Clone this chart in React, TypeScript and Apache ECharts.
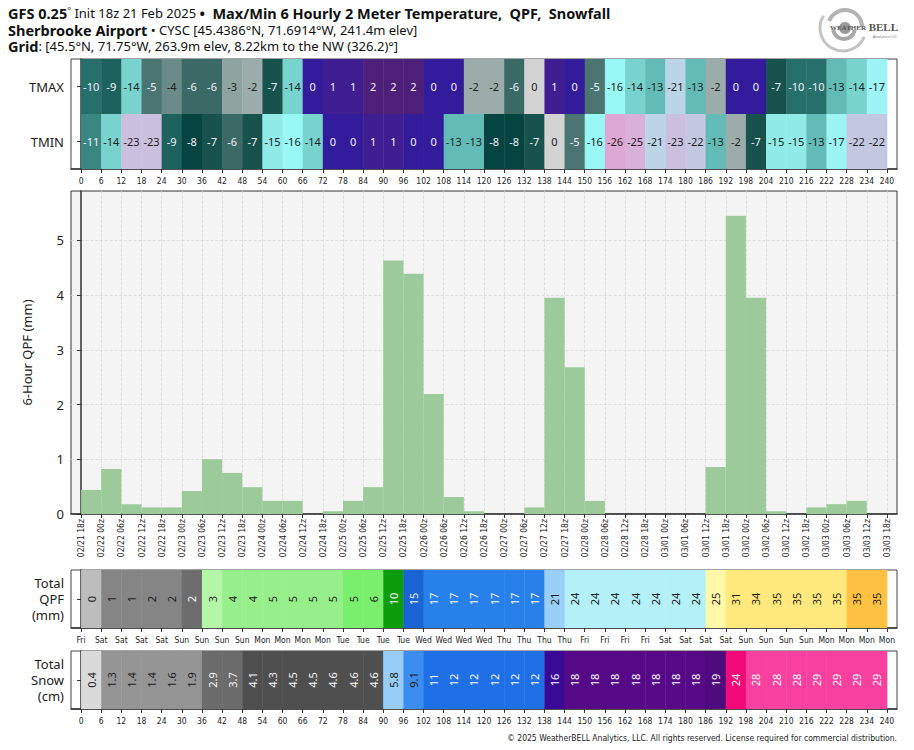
import React, { useEffect, useRef } from "react";
import * as echarts from "echarts";

// ---------- data ----------
const HOURS = [0, 6, 12, 18, 24, 30, 36, 42, 48, 54, 60, 66, 72, 78, 84, 90, 96, 102, 108, 114, 120, 126, 132, 138, 144, 150, 156, 162, 168, 174, 180, 186, 192, 198, 204, 210, 216, 222, 228, 234, 240];

const DATE_LABELS = [
  "02/21 18z",
  "02/22 00z", "02/22 06z", "02/22 12z", "02/22 18z",
  "02/23 00z", "02/23 06z", "02/23 12z", "02/23 18z",
  "02/24 00z", "02/24 06z", "02/24 12z", "02/24 18z",
  "02/25 00z", "02/25 06z", "02/25 12z", "02/25 18z",
  "02/26 00z", "02/26 06z", "02/26 12z", "02/26 18z",
  "02/27 00z", "02/27 06z", "02/27 12z", "02/27 18z",
  "02/28 00z", "02/28 06z", "02/28 12z", "02/28 18z",
  "03/01 00z", "03/01 06z", "03/01 12z", "03/01 18z",
  "03/02 00z", "03/02 06z", "03/02 12z", "03/02 18z",
  "03/03 00z", "03/03 06z", "03/03 12z", "03/03 18z",
];

const DAY_LABELS = [
  "Fri",
  "Sat", "Sat", "Sat", "Sat",
  "Sun", "Sun", "Sun", "Sun",
  "Mon", "Mon", "Mon", "Mon",
  "Tue", "Tue", "Tue", "Tue",
  "Wed", "Wed", "Wed", "Wed",
  "Thu", "Thu", "Thu", "Thu",
  "Fri", "Fri", "Fri", "Fri",
  "Sat", "Sat", "Sat", "Sat",
  "Sun", "Sun", "Sun", "Sun",
  "Mon", "Mon", "Mon", "Mon",
];

// 6-hourly max / min 2 m temperature (°C)
const TMAX = [-10, -9, -14, -5, -4, -6, -6, -3, -2, -7, -14, 0, 1, 1, 2, 2, 2, 0, 0, -2, -2, -6, -0.3, 1, 0, -5, -16, -14, -13, -21, -13, -2, 0, 0, -7, -10, -10, -13, -14, -17];
const TMIN = [-11, -14, -23, -23, -9, -8, -7, -6, -7, -15, -16, -14, 0, 0, 1, 1, 0, 0, -13, -13, -8, -8, -7, -0.3, -5, -16, -26, -25, -21, -23, -22, -13, -2, -7, -15, -15, -13, -17, -22, -22];

// 6-hour QPF (mm)
const QPF_6H = [0.44, 0.82, 0.18, 0.12, 0.12, 0.42, 1.0, 0.75, 0.49, 0.24, 0.24, 0, 0.05, 0.24, 0.49, 4.63, 4.39, 2.19, 0.31, 0.05, 0, 0, 0.12, 3.95, 2.68, 0.24, 0, 0, 0, 0, 0, 0.86, 5.45, 3.95, 0.05, 0, 0.12, 0.18, 0.24, 0];

// accumulated QPF (mm)
const QPF_TOTAL = [0.4, 1.3, 1.4, 1.6, 1.7, 2.1, 3.1, 3.9, 4.4, 4.6, 4.8, 4.8, 4.9, 5.1, 5.6, 10.2, 14.6, 16.8, 17.1, 17.2, 17.2, 17.2, 17.3, 21.3, 24.0, 24.2, 24.2, 24.2, 24.2, 24.2, 24.2, 25.1, 30.6, 34.4, 34.6, 34.6, 34.7, 34.9, 35.1, 35.1];

// accumulated snowfall (cm)
const SNOW_TOTAL = [0.4, 1.3, 1.4, 1.4, 1.6, 1.9, 2.9, 3.7, 4.1, 4.3, 4.5, 4.5, 4.6, 4.6, 4.6, 5.8, 9.1, 11, 12, 12, 12, 12, 12, 16, 18, 18, 18, 18, 18, 18, 18, 19, 24, 28, 28, 28, 29, 29, 29, 29];

const QPF_TICKS = [0, 1, 2, 3, 4, 5];

const TITLE_LINES = [
  "{b|GFS 0.25}{d|°}{n| Init 18z 21 Feb 2025 }{b|•  Max/Min 6 Hourly 2 Meter Temperature,  QPF,  Snowfall}",
  "{b|Sherbrooke Airport}{n| • CYSC [45.4386°N, 71.6914°W, 241.4m elev]}",
  "{b|Grid}{n|: [45.5°N, 71.75°W, 263.9m elev, 8.22km to the NW (326.2)°]}",
];
const COPYRIGHT = "© 2025 WeatherBELL Analytics, LLC. All rights reserved. License required for commercial distribution.";

// ---------- styles ----------
const FONT = '"Noto Sans", "Open Sans", sans-serif';
const NARROW = '"Liberation Sans Narrow", "DejaVu Sans Condensed", "Noto Sans", sans-serif';

const TEMP_STOPS: [number, string][] = [
  [-26, "#dea6d4"], [-25, "#d8b0da"], [-23, "#cbbfe0"], [-22, "#c3c7e2"], [-21, "#bcd4e8"],
  [-17, "#9cf4f4"], [-16, "#98f8f6"], [-15, "#8feae8"], [-14, "#78d3cf"], [-13, "#62bbb6"],
  [-11, "#3a8680"], [-10, "#276f6a"], [-9, "#1d625d"], [-8, "#054440"], [-7, "#17524d"],
  [-6, "#3b6a66"], [-5, "#4a7571"], [-4, "#6a8b87"], [-3, "#8ea4a0"], [-2, "#9cacaa"],
  [-0.5, "#d2d2d2"], [-0.01, "#d4d4d4"], [0, "#321c9c"], [1, "#3e1e90"], [2, "#4d1f78"],
];

type Piece = { lt: number; color: string; text: string };
const QPF_SCALE: Piece[] = [
  { lt: 1, color: "#bdbdbd", text: "#222" },
  { lt: 2, color: "#858585", text: "#222" },
  { lt: 3, color: "#6d6d6d", text: "#f4f4f4" },
  { lt: 3.5, color: "#b4f7a8", text: "#222" },
  { lt: 5, color: "#97ef8b", text: "#222" },
  { lt: 7, color: "#79ef6d", text: "#222" },
  { lt: 12, color: "#0c9c0c", text: "#f4f4f4" },
  { lt: 16, color: "#1a64d4", text: "#f4f4f4" },
  { lt: 19, color: "#2881ea", text: "#f4f4f4" },
  { lt: 22.5, color: "#99cff8", text: "#222" },
  { lt: 25, color: "#b4f0f8", text: "#222" },
  { lt: 28, color: "#fff8a9", text: "#222" },
  { lt: 35, color: "#ffe87c", text: "#222" },
  { lt: Infinity, color: "#ffc141", text: "#222" },
];
const SNOW_SCALE: Piece[] = [
  { lt: 1, color: "#dadada", text: "#222" },
  { lt: 2.5, color: "#959595", text: "#222" },
  { lt: 4, color: "#6c6c6c", text: "#f4f4f4" },
  { lt: 5, color: "#4f4f4f", text: "#f4f4f4" },
  { lt: 7, color: "#97cdf8", text: "#222" },
  { lt: 10, color: "#3b8df0", text: "#222" },
  { lt: 15, color: "#1f6fe7", text: "#f4f4f4" },
  { lt: 17, color: "#3a0996", text: "#f4f4f4" },
  { lt: 18.6, color: "#570a87", text: "#f4f4f4" },
  { lt: 20, color: "#4f0a7d", text: "#f4f4f4" },
  { lt: 25, color: "#f20a7b", text: "#f4f4f4" },
  { lt: Infinity, color: "#f8419f", text: "#f4f4f4" },
];

function hexRgb(h: string): number[] {
  return [parseInt(h.slice(1, 3), 16), parseInt(h.slice(3, 5), 16), parseInt(h.slice(5, 7), 16)];
}
function tempColor(t: number): string {
  if (t <= TEMP_STOPS[0][0]) return TEMP_STOPS[0][1];
  for (let i = 0; i < TEMP_STOPS.length - 1; i++) {
    const [t0, c0] = TEMP_STOPS[i];
    const [t1, c1] = TEMP_STOPS[i + 1];
    if (t >= t0 && t <= t1) {
      const f = (t - t0) / (t1 - t0);
      const a = hexRgb(c0), b = hexRgb(c1);
      const m = a.map((v, k) => Math.round(v + (b[k] - v) * f));
      return `rgb(${m[0]},${m[1]},${m[2]})`;
    }
  }
  return TEMP_STOPS[TEMP_STOPS.length - 1][1];
}
function lum(c: string): number {
  let r: number, g: number, b: number;
  if (c.startsWith("#")) [r, g, b] = hexRgb(c);
  else [r, g, b] = c.replace(/[^\d,]/g, "").split(",").map(Number);
  return (0.299 * r + 0.587 * g + 0.114 * b) / 255;
}
function pick(scale: Piece[], v: number): Piece {
  for (const p of scale) if (v < p.lt) return p;
  return scale[scale.length - 1];
}

// ---------- render helpers ----------
function cellRenderer(
  colorOf: (v: number) => { fill: string; text: string },
  labelOf: (v: number) => string,
  rotated: boolean
) {
  return (_params: any, api: any) => {
    const x0 = api.value(0), x1 = api.value(1), row = api.value(2), v = api.value(3);
    const a = api.coord([x0, row]);
    const b = api.coord([x1, row]);
    const h = api.size([0, 1])[1];
    const c = colorOf(v);
    const w = b[0] - a[0];
    return {
      type: "group",
      children: [
        { type: "rect", shape: { x: a[0], y: a[1] - h / 2, width: w + 0.4, height: h }, style: { fill: c.fill } },
        {
          type: "text",
          x: a[0] + w / 2,
          y: a[1],
          rotation: rotated ? Math.PI / 2 : 0,
          style: { text: labelOf(v), fill: c.text, fontSize: 11, fontFamily: FONT, align: "center", verticalAlign: "middle" },
        },
      ],
    };
  };
}

function barRenderer(_params: any, api: any) {
  const x0 = api.value(0), x1 = api.value(1), v = api.value(2);
  const a = api.coord([x0, v]);
  const b = api.coord([x1, 0]);
  return { type: "rect", shape: { x: a[0], y: a[1], width: b[0] - a[0], height: b[1] - a[1] }, style: { fill: "#9dca9a" } };
}

function xAxisFor(gridIndex: number, fmt: (v: number) => string, margin: number, rotate: number, split: boolean) {
  return {
    type: "value",
    gridIndex,
    min: -3,
    max: 243,
    axisLine: { show: true, onZero: false, lineStyle: { color: "#333", width: 1.5 } },
    axisTick: { show: true, customValues: HOURS, length: 4, lineStyle: { color: "#333", width: 1 } },
    axisLabel: { customValues: HOURS, formatter: fmt, fontSize: 8.5, fontFamily: NARROW, color: "#222", margin, rotate },
    splitLine: { show: split, lineStyle: { color: "#d9d9d9", type: "dashed", width: 0.8 } },
  };
}

function catYAxis(gridIndex: number, data: string[]) {
  return {
    type: "category",
    gridIndex,
    data,
    axisLine: { show: true, lineStyle: { color: "#333", width: 1.5 } },
    axisTick: { show: true, alignWithLabel: true, length: 4, lineStyle: { color: "#333" } },
    axisLabel: { fontSize: 13, lineHeight: 16, color: "#222", fontFamily: FONT, margin: 7, align: "right" },
    splitLine: { show: false },
  };
}

function buildOption() {
  const hourFmt = (v: number) => String(v);
  const dateFmt = (v: number) => DATE_LABELS[Math.round(v / 6)] ?? "";
  const dayFmt = (v: number) => DAY_LABELS[Math.round(v / 6)] ?? "";

  const tempCells = [
    ...TMAX.map((v, i) => [HOURS[i], HOURS[i + 1], 1, v]),
    ...TMIN.map((v, i) => [HOURS[i], HOURS[i + 1], 0, v]),
  ];
  const barData = QPF_6H.map((v, i) => [HOURS[i], HOURS[i + 1], v]);
  const qpfCells = QPF_TOTAL.map((v, i) => [HOURS[i], HOURS[i + 1], 0, v]);
  const snowCells = SNOW_TOTAL.map((v, i) => [HOURS[i], HOURS[i + 1], 0, v]);

  const rich = {
    b: { fontFamily: FONT, fontSize: 14.5, fontWeight: "bold", fill: "#111", color: "#111", lineHeight: 15 },
    n: { fontFamily: FONT, fontSize: 13, fontWeight: "normal", fill: "#111", color: "#111", lineHeight: 15 },
    d: { fontFamily: FONT, fontSize: 9, fill: "#111", color: "#111", verticalAlign: "top", lineHeight: 15 },
  };
  const titleY = [13, 29.5, 45.5];

  return {
    animation: false,
    backgroundColor: "#ffffff",
    graphic: [
      ...TITLE_LINES.map((t, i) => ({
        type: "text",
        x: 8,
        y: titleY[i],
        style: { text: t, rich, fill: "#111", verticalAlign: "middle", align: "left" },
      })),
      { type: "arc", shape: { cx: 843, cy: 28, r: 23, startAngle: 0.4, endAngle: 3.7 }, style: { stroke: "#c4c4c4", lineWidth: 3, fill: "none" } },
      { type: "arc", shape: { cx: 845, cy: 27, r: 17, startAngle: 3.5, endAngle: 6.3 }, style: { stroke: "#b4b4b4", lineWidth: 4, fill: "none" } },
      { type: "arc", shape: { cx: 844, cy: 28, r: 11, startAngle: 0.2, endAngle: 3.0 }, style: { stroke: "#a8a8a8", lineWidth: 4, fill: "none" } },
      { type: "circle", shape: { cx: 845, cy: 28, r: 6 }, style: { fill: "#9a9a9a" } },
      { type: "text", x: 866, y: 28, style: { text: "WEATHER", fill: "#555", fontSize: 7, fontWeight: "bold", fontFamily: "Liberation Serif, serif", align: "right", verticalAlign: "middle" } },
      { type: "text", x: 898, y: 27, style: { text: "BELL", fill: "#555", fontSize: 11, fontWeight: "bold", fontFamily: "Liberation Serif, serif", align: "right", verticalAlign: "middle" } },
      { type: "text", x: 897, y: 36, style: { text: "Analytics LLC", fill: "#777", fontSize: 4, fontFamily: FONT, align: "right", verticalAlign: "middle" } },
      {
        type: "text",
        x: 897,
        y: 738,
        style: { text: COPYRIGHT, fill: "#222", fontSize: 8.5, fontFamily: NARROW, align: "right", verticalAlign: "middle" },
      },
    ],
    grid: [
      { left: 71, right: 17, top: 59, height: 110, show: true, borderColor: "#444", borderWidth: 1, backgroundColor: "#ffffff" },
      { left: 71, right: 17, top: 191, height: 323, show: true, borderColor: "#333", borderWidth: 1, backgroundColor: "#f4f4f4" },
      { left: 71, right: 17, top: 570, height: 58, show: true, borderColor: "#444", borderWidth: 1, backgroundColor: "#ffffff" },
      { left: 71, right: 17, top: 651, height: 58, show: true, borderColor: "#444", borderWidth: 1, backgroundColor: "#ffffff" },
    ],
    xAxis: [
      xAxisFor(0, hourFmt, 7, 0, false),
      xAxisFor(1, dateFmt, 5, 90, true),
      xAxisFor(2, dayFmt, 7, 0, false),
      xAxisFor(3, hourFmt, 7, 0, false),
    ],
    yAxis: [
      catYAxis(0, ["TMIN", "TMAX"]),
      {
        type: "value",
        gridIndex: 1,
        min: 0,
        max: 5.9,
        name: "6-Hour QPF (mm)",
        nameLocation: "middle",
        nameGap: 38,
        nameTextStyle: { fontSize: 13, color: "#222", fontFamily: FONT },
        axisLine: { show: true, lineStyle: { color: "#333", width: 1.5 } },
        axisTick: { show: true, customValues: QPF_TICKS, length: 4, lineStyle: { color: "#333" } },
        axisLabel: { customValues: QPF_TICKS, fontSize: 13, color: "#222", fontFamily: FONT, margin: 7 },
        splitLine: { show: true, lineStyle: { color: "#d9d9d9", type: "dashed", width: 0.8 } },
      },
      catYAxis(2, ["Total\nQPF\n(mm)"]),
      catYAxis(3, ["Total\nSnow\n(cm)"]),
    ],
    series: [
      {
        type: "custom",
        xAxisIndex: 0,
        yAxisIndex: 0,
        silent: true,
        encode: { x: [0, 1], y: 2 },
        data: tempCells,
        renderItem: cellRenderer(
          (v) => {
            const f = tempColor(v);
            return { fill: f, text: lum(f) < 0.48 ? "#f2f0ff" : "#222" };
          },
          (v) => String(Math.round(v) === 0 ? 0 : Math.round(v)),
          false
        ),
      },
      {
        type: "custom",
        xAxisIndex: 1,
        yAxisIndex: 1,
        silent: true,
        encode: { x: [0, 1], y: 2 },
        data: barData,
        renderItem: barRenderer,
      },
      {
        type: "custom",
        xAxisIndex: 2,
        yAxisIndex: 2,
        silent: true,
        encode: { x: [0, 1], y: 2 },
        data: qpfCells,
        renderItem: cellRenderer(
          (v) => {
            const p = pick(QPF_SCALE, v);
            return { fill: p.color, text: p.text };
          },
          (v) => String(Math.round(v)),
          true
        ),
      },
      {
        type: "custom",
        xAxisIndex: 3,
        yAxisIndex: 3,
        silent: true,
        encode: { x: [0, 1], y: 2 },
        data: snowCells,
        renderItem: cellRenderer(
          (v) => {
            const p = pick(SNOW_SCALE, v);
            return { fill: p.color, text: p.text };
          },
          (v) => (v < 10 ? v.toFixed(1) : String(Math.round(v))),
          true
        ),
      },
    ],
  };
}

export default function App() {
  const ref = useRef<HTMLDivElement>(null);
  useEffect(() => {
    if (!ref.current) return;
    const chart = echarts.init(ref.current, null, { renderer: "svg" });
    chart.setOption(buildOption() as any);
    return () => chart.dispose();
  }, []);
  return (
    <div
      ref={ref}
      style={{ position: "fixed", left: 0, top: 0, width: 914, height: 750, background: "#fff" }}
    />
  );
}
